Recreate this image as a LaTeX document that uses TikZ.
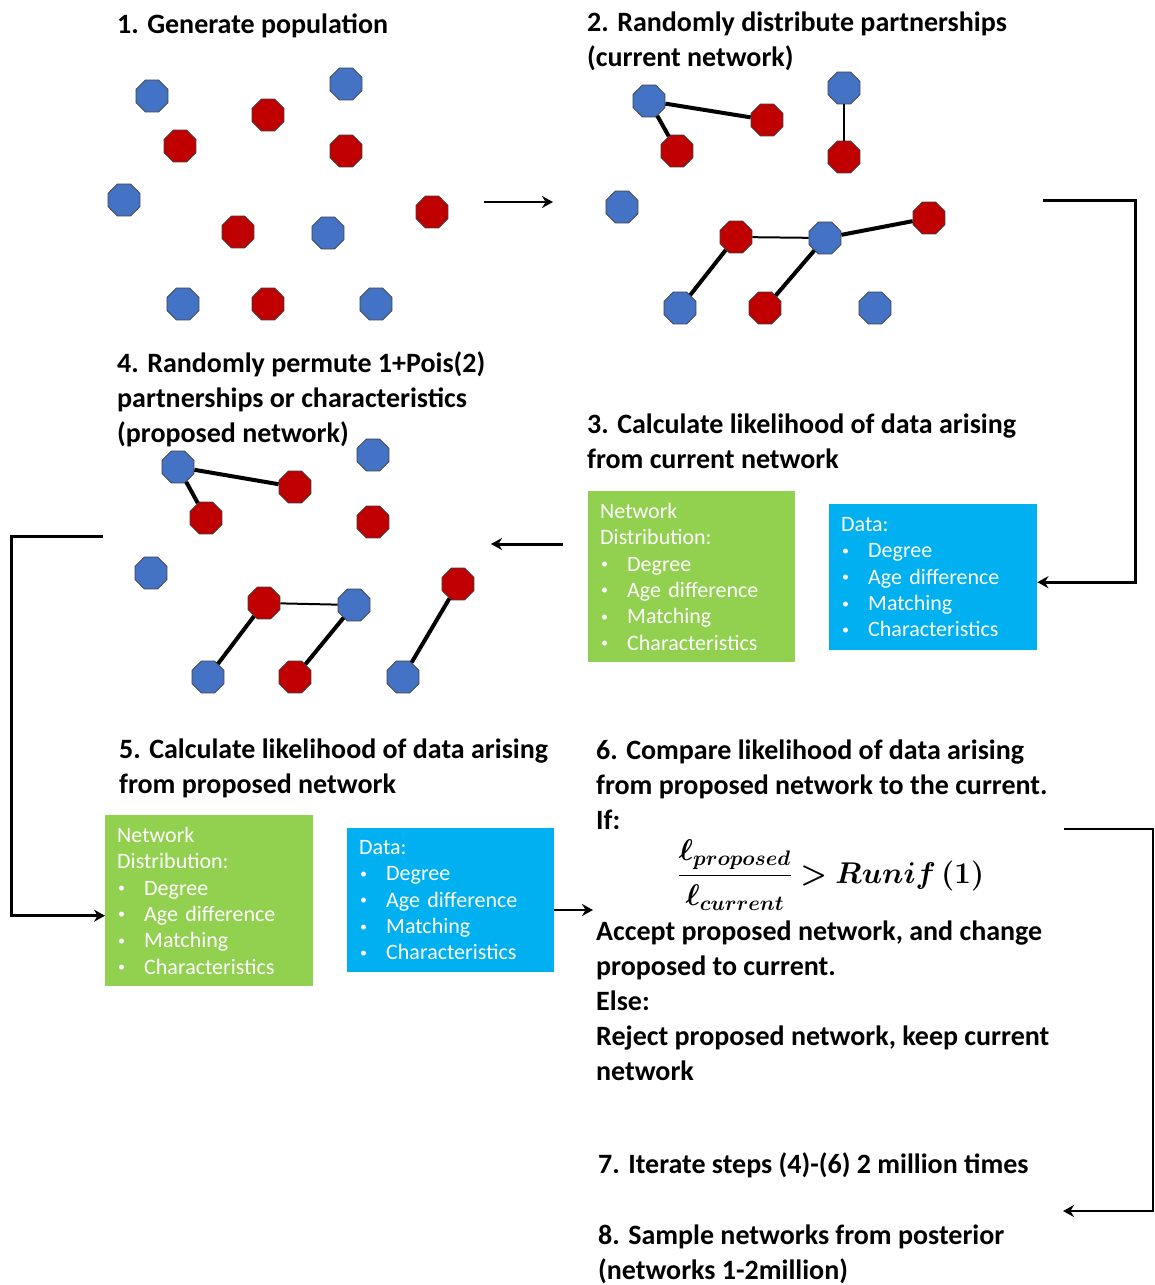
\RequirePackage{fix-cm}
\documentclass[tikz,border=0pt]{standalone}
\usepackage{amsmath}
\usepackage{bm}
\usepackage{fontspec}
\setmainfont{Carlito}
\usepackage{tikz}
\usetikzlibrary{arrows.meta, shapes.geometric, positioning}
\definecolor{octblue}{HTML}{4472C4}
\definecolor{octred}{HTML}{C00000}
\definecolor{boxgreen}{HTML}{92D050}
\definecolor{boxblue}{HTML}{00B0F0}
\newcommand{\itm}{\makebox[27pt][l]{\hspace{1pt}\raisebox{2.5pt}{\fontsize{14}{14}\selectfont\textbullet}}}

\begin{document}
\begin{tikzpicture}[x=1pt, y=-1pt, >={Stealth[length=11pt, width=12pt]},
	bnode/.style={regular polygon, regular polygon sides=8, minimum size=34.6pt, inner sep=0pt, fill=octblue, draw=black!75, line width=0.8pt},
	rnode/.style={bnode, fill=octred},
	link/.style={line width=4pt},
	thinlink/.style={line width=2pt},
	head/.style={anchor=base west, align=left, inner sep=0pt, font=\bfseries\fontsize{28}{35}\selectfont},
	infobox/.style={anchor=north west, text=white, align=left, inner xsep=12pt, inner ysep=0pt, font=\fontsize{22}{26.4}\selectfont},
	conn/.style={->, line width=3pt}]

		\path[use as bounding box, fill=white] (0,0) rectangle (1155,1285);

		\node[head] (s1) at (117,33) {1. Generate population};
		\node[head] (s2) at (587,66) {2. Randomly distribute partnerships\\(current network)};
		\node[head] (s4) at (117,442) {4. Randomly permute 1+Pois(2)\\partnerships or characteristics\\(proposed network)};
		\node[head] (s3) at (587,468) {3. Calculate likelihood of data arising\\from current network};
		\node[head] (s5) at (119,793) {5. Calculate likelihood of data arising\\from proposed network};
		\node[head] (s6) at (596,829) {6. Compare likelihood of data arising\\from proposed network to the current.\\If:};
		\node[head] (acc) at (596,1080) {Accept proposed network, and change\\proposed to current.\\Else:\\Reject proposed network, keep current\\network};
		\node[head] (s7) at (598,1173) {7. Iterate steps (4)-(6) 2 million times};
		\node[head] (s8) at (598,1279) {8. Sample networks from posterior\\(networks 1-2million)};

		\node[anchor=base, inner sep=0pt, font=\fontsize{30}{36}\selectfont] (fml) at (831,883)
			{$\bm{\dfrac{\ell_{proposed}}{\ell_{current}} > Runif\,(1)}$};

		\node[infobox, fill=boxgreen, text width=183pt, minimum height=171pt] (nd3) at (588,491)
			{Network\\Distribution:\\\itm Degree\\\itm Age difference\\\itm Matching\\\itm Characteristics};
		\node[infobox, fill=boxblue, text width=184pt, minimum height=146pt] (dt3) at (829,504)
			{Data:\\\itm Degree\\\itm Age difference\\\itm Matching\\\itm Characteristics};
		\node[infobox, fill=boxgreen, text width=184pt, minimum height=171pt] (nd5) at (105,815)
			{Network\\Distribution:\\\itm Degree\\\itm Age difference\\\itm Matching\\\itm Characteristics};
		\node[infobox, fill=boxblue, text width=183pt, minimum height=144pt] (dt5) at (347,828)
			{Data:\\\itm Degree\\\itm Age difference\\\itm Matching\\\itm Characteristics};

		\foreach \x/\y/\s [count=\i] in {152/96/bnode, 180/146/rnode, 268/115/rnode, 346/84/bnode,
			346/151/rnode, 124/200/bnode, 238/232/rnode, 328/233/bnode, 432/212/rnode,
			183/304/bnode, 268/304/rnode, 376/304/bnode}
			\node[\s] (a\i) at (\x,\y) {};

		\foreach \x/\y/\s [count=\i] in {649/101/bnode, 767/120/rnode, 677/151/rnode, 844/88/bnode,
			844/157/rnode, 622/207/bnode, 736/237/rnode, 825/238/bnode, 929/218/rnode,
			680/308/bnode, 765/308/rnode, 875/308/bnode}
			\node[\s] (b\i) at (\x,\y) {};

		\foreach \x/\y/\s [count=\i] in {178/467/bnode, 295/487/rnode, 206/518/rnode, 373/455/bnode,
			373/522/rnode, 151/573/bnode, 264/603/rnode, 354/605/bnode, 458/584/rnode,
			208/677/bnode, 295/677/rnode, 403/677/bnode}
			\node[\s] (d\i) at (\x,\y) {};

		\path
		(b1) edge[link] (b2)
				edge[link] (b3)
		(b4) edge[thinlink, line width=2.5pt] (b5)
		(b7) edge[thinlink] (b8)
				edge[link] (b10)
		(b8) edge[link] (b9)
				edge[link] (b11);

		\path
		(d1) edge[link] (d2)
				edge[link] (d3)
		(d7) edge[thinlink] (d8)
				edge[link] (d10)
		(d8) edge[link] (d11)
		(d9) edge[link] (d12);

		\coordinate (p12a) at (484,202);
		\coordinate (p12b) at (553,202);
		\coordinate (p23) at (1043,200);
		\coordinate (p34a) at (563,544);
		\coordinate (p34b) at (491,544);
		\coordinate (p45) at (103,536);
		\coordinate (p56) at (593,910);
		\coordinate (p68a) at (1064,829);
		\coordinate (p68b) at (1063,1211);

		\draw[conn, line width=2pt] (p12a) -- (p12b);
		\draw[conn] (p23) -- ++(92,0) |- ([yshift=-5pt]dt3.east);
		\draw[conn] (p34a) -- (p34b);
		\draw[conn] (p45) -- ++(-92,0) |- ([yshift=-15pt]nd5.west);
		\draw[conn, line width=2pt] (dt5.east |- p56) -- (p56);
		\draw[conn, line width=2.5pt] (p68a) -- ++(89,0) |- (p68b);

\end{tikzpicture}
\end{document}
